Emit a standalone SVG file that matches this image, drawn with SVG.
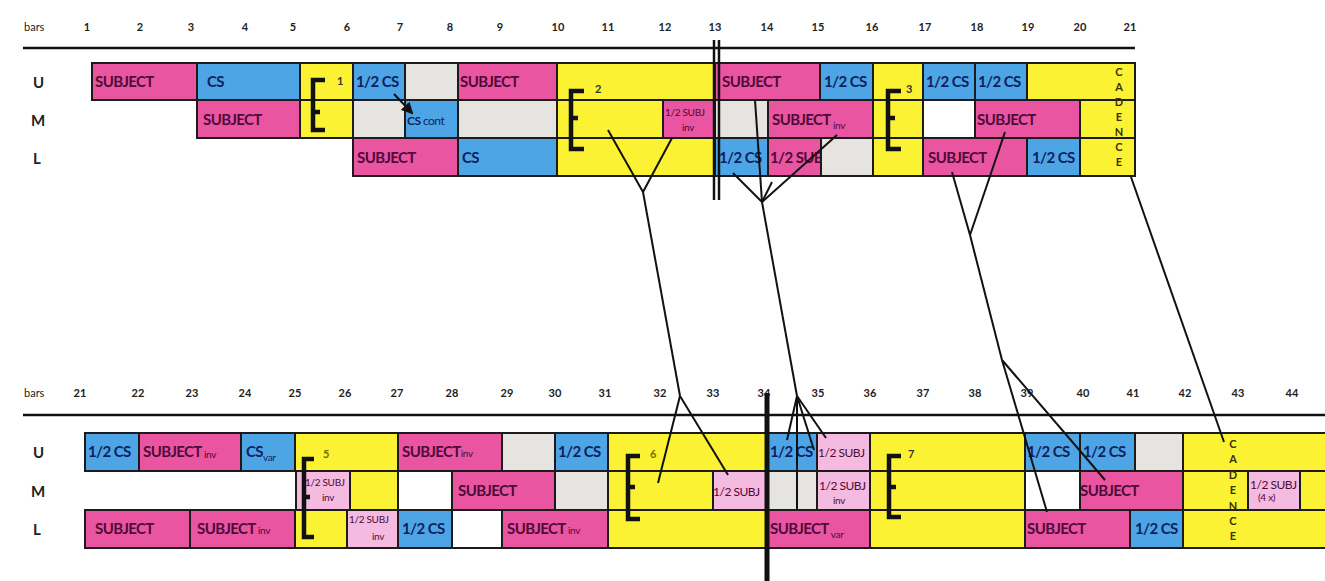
<svg xmlns="http://www.w3.org/2000/svg" width="1325" height="581" viewBox="0 0 1325 581">
<style>
rect{stroke:#1c1a1a;stroke-width:2}
.pk{fill:#ea55a2}.bl{fill:#4da5e6}.ye{fill:#fbf234}.gr{fill:#e6e4e0}.wh{fill:#ffffff}.lp{fill:#f5badf}
text{font-family:Lato,"Open Sans","Liberation Sans",sans-serif;font-weight:700}
.t{font-size:15px;letter-spacing:-0.6px}
.tp{fill:#4e0a38}.tb{fill:#0f1f5e}
.s{font-size:10px;font-weight:400;letter-spacing:-0.3px}
.sm{font-size:12px;letter-spacing:-0.5px}
.hdr{font-size:11px;fill:#222;font-weight:700}
.row{font-size:15px;fill:#222}
.cad{font-size:11px;fill:#3a3000;text-anchor:middle;font-weight:700}
.num{font-size:11px;fill:#333}
.ol{fill:#7a6c00}
.br{fill:none;stroke:#111;stroke-width:4.5}
.cn line{stroke:#111;stroke-width:2}
</style>
<defs>
<marker id="ah" markerWidth="6" markerHeight="6" refX="5" refY="3" orient="auto"><path d="M0,0 L6,3 L0,6 z" fill="#111"/></marker>
</defs>
<rect width="1325" height="581" fill="#fff" style="stroke:none"/>

<!-- header top -->
<g id="hdr-top">
<text class="hdr" x="24" y="31" style="font-weight:400">bars</text>
<text class="hdr" x="87" y="31" text-anchor="middle">1</text>
<text class="hdr" x="140" y="31" text-anchor="middle">2</text>
<text class="hdr" x="191" y="31" text-anchor="middle">3</text>
<text class="hdr" x="245" y="31" text-anchor="middle">4</text>
<text class="hdr" x="293" y="31" text-anchor="middle">5</text>
<text class="hdr" x="347" y="31" text-anchor="middle">6</text>
<text class="hdr" x="400" y="31" text-anchor="middle">7</text>
<text class="hdr" x="450" y="31" text-anchor="middle">8</text>
<text class="hdr" x="500" y="31" text-anchor="middle">9</text>
<text class="hdr" x="558" y="31" text-anchor="middle">10</text>
<text class="hdr" x="608" y="31" text-anchor="middle">11</text>
<text class="hdr" x="665" y="31" text-anchor="middle">12</text>
<text class="hdr" x="715" y="31" text-anchor="middle">13</text>
<text class="hdr" x="767" y="31" text-anchor="middle">14</text>
<text class="hdr" x="818" y="31" text-anchor="middle">15</text>
<text class="hdr" x="872" y="31" text-anchor="middle">16</text>
<text class="hdr" x="925" y="31" text-anchor="middle">17</text>
<text class="hdr" x="977" y="31" text-anchor="middle">18</text>
<text class="hdr" x="1028" y="31" text-anchor="middle">19</text>
<text class="hdr" x="1080" y="31" text-anchor="middle">20</text>
<text class="hdr" x="1130" y="31" text-anchor="middle">21</text>
<line x1="23" y1="48" x2="1135" y2="48" stroke="#111" stroke-width="2.5"/>
<text class="row" x="33" y="88">U</text>
<text class="row" x="31" y="126">M</text>
<text class="row" x="33" y="164">L</text>
</g>

<!-- top U row -->
<g id="tu1"><rect class="pk" x="92" y="63" width="105" height="37"/><text class="t tp" x="95" y="87">SUBJECT</text></g>
<g id="tu2"><rect class="bl" x="197" y="63" width="103" height="37"/><text class="t tb" x="207" y="87">CS</text></g>
<g id="tu3"><rect class="ye" x="300" y="63" width="53" height="37"/></g>
<g id="tu4"><rect class="bl" x="353" y="63" width="52" height="37"/><text class="t tb" x="356" y="87">1/2 CS</text></g>
<g id="tu5"><rect class="gr" x="405" y="63" width="53" height="37"/></g>
<g id="tu6"><rect class="pk" x="458" y="63" width="99" height="37"/><text class="t tp" x="460" y="87">SUBJECT</text></g>
<g id="tu7"><rect class="ye" x="557" y="63" width="158" height="37"/></g>
<g id="tu8"><rect class="pk" x="715" y="63" width="105" height="37"/><text class="t tp" x="722" y="87">SUBJECT</text></g>
<g id="tu9"><rect class="bl" x="820" y="63" width="53" height="37"/><text class="t tb" x="824" y="87">1/2 CS</text></g>
<g id="tu10"><rect class="ye" x="873" y="63" width="50" height="37"/></g>
<g id="tu11"><rect class="bl" x="923" y="63" width="52" height="37"/><text class="t tb" x="926" y="87">1/2 CS</text></g>
<g id="tu12"><rect class="bl" x="975" y="63" width="52" height="37"/><text class="t tb" x="978" y="87">1/2 CS</text></g>
<g id="tu13"><rect class="ye" x="1027" y="63" width="108" height="37"/></g>

<!-- top M row -->
<g id="tm1"><rect class="pk" x="197" y="100" width="103" height="38"/><text class="t tp" x="203" y="125">SUBJECT</text></g>
<g id="tm2"><rect class="ye" x="300" y="100" width="53" height="38"/></g>
<g id="tm3"><rect class="gr" x="353" y="100" width="52" height="38"/></g>
<g id="tm4"><rect class="bl" x="405" y="100" width="53" height="38"/><text class="sm tb" x="407" y="125">CS <tspan style="font-weight:400">cont</tspan></text></g>
<g id="tm5"><rect class="gr" x="458" y="100" width="99" height="38"/></g>
<g id="tm6"><rect class="ye" x="557" y="100" width="106" height="38"/></g>
<g id="tm7"><rect class="pk" x="663" y="100" width="52" height="38"/><text class="s tp" x="665" y="116">1/2 SUBJ</text><text class="s tp" x="682" y="131">inv</text></g>
<g id="tm8"><rect class="gr" x="715" y="100" width="53" height="38"/></g>
<g id="tm9"><rect class="pk" x="768" y="100" width="105" height="38"/><text class="t tp" x="772" y="125">SUBJECT<tspan class="s" dy="4"> inv</tspan></text></g>
<g id="tm10"><rect class="ye" x="873" y="100" width="50" height="38"/></g>
<g id="tm11"><rect class="wh" x="923" y="100" width="52" height="38"/></g>
<g id="tm12"><rect class="pk" x="975" y="100" width="105" height="38"/><text class="t tp" x="977" y="125">SUBJECT</text></g>
<g id="tm13"><rect class="ye" x="1080" y="100" width="55" height="38"/></g>

<!-- top L row -->
<g id="tl1"><rect class="pk" x="353" y="138" width="105" height="38"/><text class="t tp" x="357" y="163">SUBJECT</text></g>
<g id="tl2"><rect class="bl" x="458" y="138" width="99" height="38"/><text class="t tb" x="462" y="163">CS</text></g>
<g id="tl3"><rect class="ye" x="557" y="138" width="158" height="38"/></g>
<g id="tl4"><rect class="bl" x="715" y="138" width="53" height="38"/><text class="t tb" x="719" y="163">1/2 CS</text></g>
<g id="tl5"><rect class="pk" x="768" y="138" width="53" height="38"/><text class="t tp" x="770" y="163">1/2 SUBJ</text></g>
<g id="tl6"><rect class="gr" x="821" y="138" width="52" height="38"/></g>
<g id="tl7"><rect class="ye" x="873" y="138" width="50" height="38"/></g>
<g id="tl8"><rect class="pk" x="923" y="138" width="104" height="38"/><text class="t tp" x="928" y="163">SUBJECT</text></g>
<g id="tl9"><rect class="bl" x="1027" y="138" width="53" height="38"/><text class="t tb" x="1032" y="163">1/2 CS</text></g>
<g id="tl10"><rect class="ye" x="1080" y="138" width="55" height="38"/></g>

<g id="cad-top">
<text class="cad" x="1119" y="76">C</text><text class="cad" x="1119" y="91">A</text><text class="cad" x="1119" y="106">D</text><text class="cad" x="1119" y="121">E</text><text class="cad" x="1119" y="136">N</text><text class="cad" x="1119" y="151">C</text><text class="cad" x="1119" y="166">E</text>
</g>

<!-- top brackets -->
<g id="brk1"><path class="br" d="M325,80 H313 V130 H325 M313,112 H320"/><text class="num" x="337" y="85">1</text></g>
<g id="brk2"><path class="br" d="M584,91 H571 V149 H584 M571,118 H578"/><text class="num" x="595" y="93">2</text></g>
<g id="brk3"><path class="br" d="M901,91 H888 V149 H901 M888,118 H895"/><text class="num" x="906" y="93">3</text></g>

<!-- header bottom -->
<g id="hdr-bot">
<text class="hdr" x="24" y="397" style="font-weight:400">bars</text>
<text class="hdr" x="80" y="397" text-anchor="middle">21</text>
<text class="hdr" x="138" y="397" text-anchor="middle">22</text>
<text class="hdr" x="192" y="397" text-anchor="middle">23</text>
<text class="hdr" x="245" y="397" text-anchor="middle">24</text>
<text class="hdr" x="295" y="397" text-anchor="middle">25</text>
<text class="hdr" x="345" y="397" text-anchor="middle">26</text>
<text class="hdr" x="397" y="397" text-anchor="middle">27</text>
<text class="hdr" x="452" y="397" text-anchor="middle">28</text>
<text class="hdr" x="507" y="397" text-anchor="middle">29</text>
<text class="hdr" x="555" y="397" text-anchor="middle">30</text>
<text class="hdr" x="605" y="397" text-anchor="middle">31</text>
<text class="hdr" x="660" y="397" text-anchor="middle">32</text>
<text class="hdr" x="713" y="397" text-anchor="middle">33</text>
<text class="hdr" x="764" y="397" text-anchor="middle">34</text>
<text class="hdr" x="818" y="397" text-anchor="middle">35</text>
<text class="hdr" x="870" y="397" text-anchor="middle">36</text>
<text class="hdr" x="923" y="397" text-anchor="middle">37</text>
<text class="hdr" x="975" y="397" text-anchor="middle">38</text>
<text class="hdr" x="1027" y="397" text-anchor="middle">39</text>
<text class="hdr" x="1083" y="397" text-anchor="middle">40</text>
<text class="hdr" x="1133" y="397" text-anchor="middle">41</text>
<text class="hdr" x="1185" y="397" text-anchor="middle">42</text>
<text class="hdr" x="1238" y="397" text-anchor="middle">43</text>
<text class="hdr" x="1292" y="397" text-anchor="middle">44</text>
<line x1="23" y1="415" x2="1325" y2="415" stroke="#111" stroke-width="2.5"/>
<text class="row" x="33" y="458">U</text>
<text class="row" x="31" y="497">M</text>
<text class="row" x="33" y="535">L</text>
</g>

<!-- bottom U row -->
<g id="bu1"><rect class="bl" x="85" y="433" width="54" height="38"/><text class="t tb" x="88" y="457">1/2 CS</text></g>
<g id="bu2"><rect class="pk" x="139" y="433" width="102" height="38"/><text class="t tp" x="143" y="457">SUBJECT<tspan class="s" dy="1"> inv</tspan></text></g>
<g id="bu3"><rect class="bl" x="241" y="433" width="54" height="38"/><text class="t tb" x="246" y="457">CS<tspan class="s" dy="4">var</tspan></text></g>
<g id="bu4"><rect class="ye" x="295" y="433" width="103" height="38"/></g>
<g id="bu5"><rect class="pk" x="398" y="433" width="104" height="38"/><text class="t tp" x="402" y="457">SUBJECT<tspan class="s" dy="0">inv</tspan></text></g>
<g id="bu6"><rect class="gr" x="502" y="433" width="53" height="38"/></g>
<g id="bu7"><rect class="bl" x="555" y="433" width="53" height="38"/><text class="t tb" x="558" y="457">1/2 CS</text></g>
<g id="bu8"><rect class="ye" x="608" y="433" width="159" height="38"/></g>
<g id="bu9"><rect class="bl" x="767" y="433" width="50" height="38"/><text class="t tb" x="770" y="457">1/2 CS</text></g>
<g id="bu10"><rect class="lp" x="817" y="433" width="53" height="38"/><text class="sm tp" x="818" y="457" style="font-weight:400">1/2 SUBJ</text></g>
<g id="bu11"><rect class="ye" x="870" y="433" width="155" height="38"/></g>
<g id="bu12"><rect class="bl" x="1025" y="433" width="55" height="38"/><text class="t tb" x="1027" y="457">1/2 CS</text></g>
<g id="bu13"><rect class="bl" x="1080" y="433" width="55" height="38"/><text class="t tb" x="1083" y="457">1/2 CS</text></g>
<g id="bu14"><rect class="gr" x="1135" y="433" width="48" height="38"/></g>
<g id="bu15"><rect class="ye" x="1183" y="433" width="150" height="38"/></g>

<!-- bottom M row -->
<g id="bm1"><rect class="lp" x="296" y="471" width="54" height="39"/><text class="s tp" x="305" y="486">1/2 SUBJ</text><text class="s tp" x="322" y="501">inv</text></g>
<g id="bm2"><rect class="ye" x="350" y="471" width="48" height="39"/></g>
<g id="bm3"><rect class="wh" x="398" y="471" width="54" height="39"/></g>
<g id="bm4"><rect class="pk" x="452" y="471" width="103" height="39"/><text class="t tp" x="458" y="496">SUBJECT</text></g>
<g id="bm5"><rect class="gr" x="555" y="471" width="53" height="39"/></g>
<g id="bm6"><rect class="ye" x="608" y="471" width="105" height="39"/></g>
<g id="bm7"><rect class="lp" x="713" y="471" width="54" height="39"/><text class="sm tp" x="713" y="496" style="font-weight:400">1/2 SUBJ</text></g>
<g id="bm8"><rect class="gr" x="767" y="471" width="50" height="39"/></g>
<g id="bm9"><rect class="lp" x="817" y="471" width="53" height="39"/><text class="sm tp" x="819" y="490" style="font-weight:400">1/2 SUBJ</text><text class="s tp" x="833" y="504">inv</text></g>
<g id="bm10"><rect class="ye" x="870" y="471" width="155" height="39"/></g>
<g id="bm11"><rect class="wh" x="1025" y="471" width="55" height="39"/></g>
<g id="bm12"><rect class="pk" x="1080" y="471" width="103" height="39"/><text class="t tp" x="1080" y="496">SUBJECT</text></g>
<g id="bm13"><rect class="ye" x="1183" y="471" width="65" height="39"/></g>
<g id="bm14"><rect class="lp" x="1248" y="471" width="52" height="39"/><text class="sm tp" x="1250" y="489" style="font-weight:400">1/2 SUBJ</text><text class="s tp" x="1258" y="501">(4 x)</text></g>
<g id="bm15"><rect class="ye" x="1300" y="471" width="33" height="39"/></g>

<!-- bottom L row -->
<g id="bl1"><rect class="pk" x="85" y="510" width="105" height="38"/><text class="t tp" x="95" y="534">SUBJECT</text></g>
<g id="bl2"><rect class="pk" x="190" y="510" width="105" height="38"/><text class="t tp" x="197" y="534">SUBJECT<tspan class="s" dy="0"> inv</tspan></text></g>
<g id="bl3"><rect class="ye" x="295" y="510" width="52" height="38"/></g>
<g id="bl4"><rect class="lp" x="347" y="510" width="51" height="38"/><text class="s tp" x="349" y="523">1/2 SUBJ</text><text class="s tp" x="372" y="540">inv</text></g>
<g id="bl5"><rect class="bl" x="398" y="510" width="54" height="38"/><text class="t tb" x="402" y="534">1/2 CS</text></g>
<g id="bl6"><rect class="wh" x="452" y="510" width="50" height="38"/></g>
<g id="bl7"><rect class="pk" x="502" y="510" width="106" height="38"/><text class="t tp" x="507" y="534">SUBJECT<tspan class="s" dy="0"> inv</tspan></text></g>
<g id="bl8"><rect class="ye" x="608" y="510" width="159" height="38"/></g>
<g id="bl9"><rect class="pk" x="767" y="510" width="103" height="38"/><text class="t tp" x="770" y="534">SUBJECT<tspan class="s" dy="4"> var</tspan></text></g>
<g id="bl10"><rect class="ye" x="870" y="510" width="155" height="38"/></g>
<g id="bl11"><rect class="pk" x="1025" y="510" width="105" height="38"/><text class="t tp" x="1027" y="534">SUBJECT</text></g>
<g id="bl12"><rect class="bl" x="1130" y="510" width="53" height="38"/><text class="t tb" x="1135" y="534">1/2 CS</text></g>
<g id="bl13"><rect class="ye" x="1183" y="510" width="150" height="38"/></g>

<g id="cad-bot">
<text class="cad" x="1233" y="448">C</text><text class="cad" x="1233" y="463">A</text><text class="cad" x="1233" y="479">D</text><text class="cad" x="1233" y="494">E</text><text class="cad" x="1233" y="510">N</text><text class="cad" x="1233" y="525">C</text><text class="cad" x="1233" y="540">E</text>
</g>

<!-- bottom brackets -->
<g id="brk5"><path class="br" d="M314,459 H304 V537 H314 M304,497 H310"/><text class="num ol" x="323" y="458">5</text></g>
<g id="brk6"><path class="br" d="M640,456 H628 V519 H640 M628,487 H635"/><text class="num ol" x="650" y="458">6</text></g>
<g id="brk7"><path class="br" d="M901,456 H889 V517 H901 M889,487 H896"/><text class="num" x="908" y="458">7</text></g>

<!-- double bars -->
<g id="bars">
<line x1="714" y1="40" x2="714" y2="200" stroke="#111" stroke-width="2.5"/>
<line x1="719" y1="40" x2="719" y2="200" stroke="#111" stroke-width="2.5"/>
<line x1="767" y1="393" x2="767" y2="581" stroke="#111" stroke-width="5"/>
</g>

<!-- connectors -->
<g id="connectors" class="cn">
<line x1="394" y1="94" x2="412" y2="113" marker-end="url(#ah)"/>
<line x1="608" y1="130" x2="643" y2="192"/>
<line x1="672" y1="138" x2="643" y2="192"/>
<line x1="643" y1="192" x2="680" y2="396"/>
<line x1="680" y1="396" x2="658" y2="483"/>
<line x1="680" y1="396" x2="728" y2="475"/>
<line x1="733" y1="173" x2="762" y2="202"/>
<line x1="755" y1="100" x2="762" y2="202"/>
<line x1="772" y1="182" x2="762" y2="202"/>
<line x1="837" y1="135" x2="762" y2="202"/>
<line x1="762" y1="202" x2="797" y2="396"/>
<line x1="797" y1="396" x2="787" y2="440"/>
<line x1="797" y1="396" x2="797" y2="510"/>
<line x1="797" y1="396" x2="814" y2="450"/>
<line x1="797" y1="396" x2="826" y2="438"/>
<line x1="952" y1="172" x2="970" y2="235"/>
<line x1="1005" y1="132" x2="970" y2="235"/>
<line x1="970" y1="235" x2="1002" y2="360"/>
<line x1="1002" y1="360" x2="1047" y2="512"/>
<line x1="1002" y1="360" x2="1105" y2="480"/>
<line x1="1131" y1="177" x2="1224" y2="442"/>
</g>
</svg>
